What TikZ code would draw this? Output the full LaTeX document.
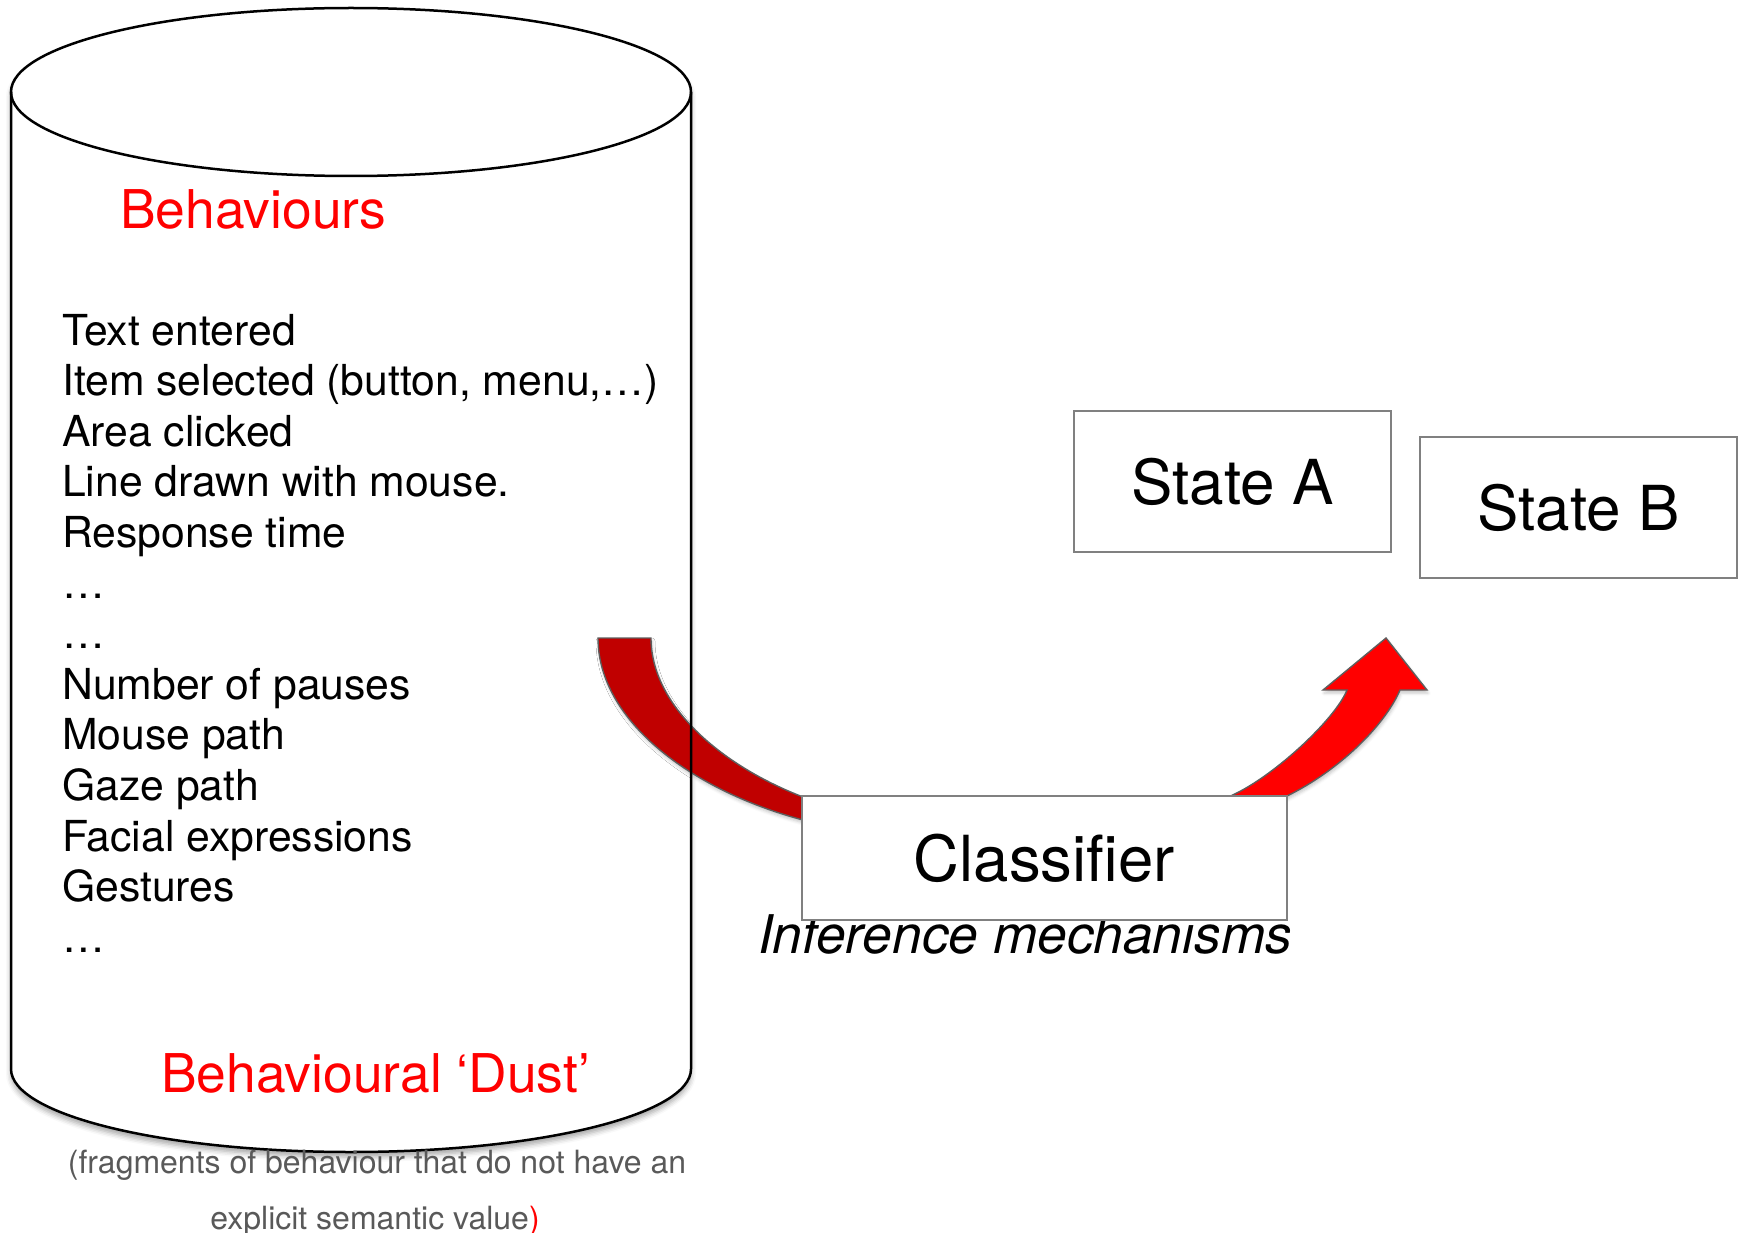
\documentclass[tikz,border=0pt]{standalone}
\usepackage{fontspec}
\setmainfont{TeX Gyre Heros}
\usetikzlibrary{shadows.blur}

\definecolor{darkarrow}{HTML}{C00000}
\definecolor{brightarrow}{HTML}{FF0000}
\definecolor{notegrey}{HTML}{595959}
\definecolor{boxgrey}{HTML}{808080}
\definecolor{edgegrey}{HTML}{5E5E5E}

% font size given in picture units (1 unit = 1pt)
\newcommand\pxsize[1]{\fontsize{#1}{#1}\selectfont}

\tikzset{
  label text/.style={inner sep=0pt, anchor=base west},
  list item/.style={label text, font=\pxsize{42.7}},
  red title/.style={label text, text=brightarrow, font=\pxsize{53.4}},
  statebox/.style={draw=boxgrey, line width=1.5pt, fill=white, inner sep=0pt},
  block arrow/.style={draw=edgegrey, line width=1.4pt, line join=miter,
    blur shadow={shadow xshift=1pt, shadow yshift=-3pt, shadow opacity=22,
                 shadow blur radius=3pt}},
  drum/.style={line width=2.5pt, draw=black},
}

\begin{document}
\begin{tikzpicture}[x=1pt, y=-1pt]
\useasboundingbox (0,0) rectangle (1742,1233);

% body of the storage drum (filled first so the arrow can sit on it)
\path[fill=white, blur shadow={shadow xshift=0pt, shadow yshift=-5pt,
      shadow opacity=35, shadow blur radius=5pt}]
  (11,92) -- (11,1069)
  arc[start angle=180, end angle=0, x radius=340, y radius=83]
  -- (691,92)
  arc[start angle=0, end angle=-180, x radius=340, y radius=84] -- cycle;

% curved arrow from the drum into the classifier
\path[block arrow, fill=darkarrow]
  (598,638) -- (651,638)
  .. controls (651,705) and (720,765) .. (803,797)
  -- (850,818) -- (850,836) -- (803,820)
  .. controls (690,790) and (598,720) .. (598,638) -- cycle;

% curved arrow from the classifier up to the states
\path[block arrow, fill=brightarrow]
  (1386,638) -- (1427,690) -- (1400,690)
  .. controls (1385,725) and (1340,770) .. (1287,796)
  -- (1250,812) -- (1195,812) -- (1228,797)
  .. controls (1270,780) and (1335,720) .. (1347,690)
  -- (1323,690) -- cycle;

% outline of the drum
\draw[drum]
  (11,92) -- (11,1069)
  arc[start angle=180, end angle=0, x radius=340, y radius=83]
  -- (691,92);
\draw[drum] (351,92) ellipse[x radius=340, y radius=84];

% contents of the drum
\node[red title] (behaviours) at (120,229) {Behaviours};

\foreach \entry [count=\i from 0] in
  {Text entered, {Item selected (button, menu,…)}, Area clicked,
   Line drawn with mouse., Response time, …, …, Number of pauses,
   Mouse path, Gaze path, Facial expressions, Gestures, …}
  \node[list item] (item\i) at (62,{345+50.6*\i}) {\entry};

\node[red title] (dust) at (161,1092) {Behavioural ‘Dust’};

% caption below the classifier (partly hidden by its box)
\node[inner sep=0pt, anchor=base, font=\pxsize{53.3}\itshape] (inference)
  at (1025,953) {Inference mechanisms};

% classifier and states
\node[statebox, minimum width=485pt, minimum height=124pt, font=\pxsize{63.5}]
  (classifier) at (1044.5,858) {Classifier};
\node[statebox, minimum width=317pt, minimum height=141pt, font=\pxsize{62}]
  (stateA) at (1232.5,481.5) {State A};
\node[statebox, minimum width=317pt, minimum height=141pt, font=\pxsize{62}]
  (stateB) at (1578.5,507.5) {State B};

% note under the drum
\node[inner sep=0pt, anchor=base, text=notegrey, font=\pxsize{32}] (note1)
  at (377,1173) {(fragments of behaviour that do not have an};
\node[inner sep=0pt, anchor=base, text=notegrey, font=\pxsize{32}] (note2)
  at (375,1229) {explicit semantic value\textcolor{brightarrow}{)}};
\end{tikzpicture}
\end{document}
